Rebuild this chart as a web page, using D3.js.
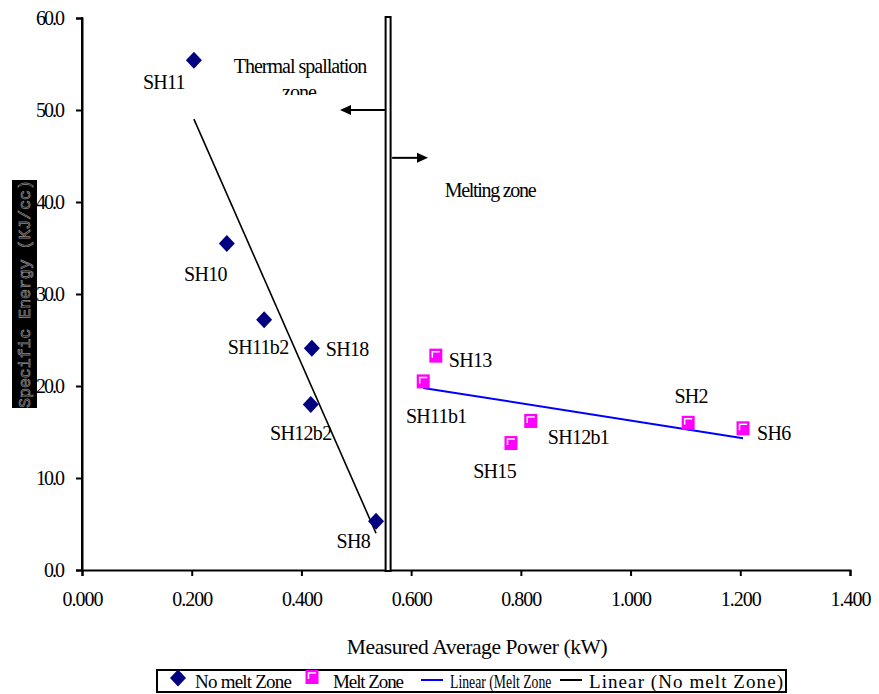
<!DOCTYPE html>
<html>
<head>
<meta charset="utf-8">
<script src="https://cdn.jsdelivr.net/npm/d3@7"></script>
<style>
  html, body { margin: 0; padding: 0; background: #fff; }
  svg { display: block; }
  text { font-family: "Liberation Serif", "Times New Roman", serif; fill: #000; }
</style>
</head>
<body>
<svg id="chart" width="879" height="694"></svg>
<script>
// ---------- data ----------
const noMeltNames = ["SH11", "SH10", "SH11b2", "SH18", "SH12b2", "SH8"];
const noMeltPower = [0.204, 0.264, 0.332, 0.419, 0.417, 0.536];
const noMeltEnergy = [55.4, 35.5, 27.2, 24.1, 18.0, 5.3];

const meltNames = ["SH11b1", "SH13", "SH12b1", "SH15", "SH2", "SH6"];
const meltPower = [0.622, 0.645, 0.818, 0.782, 1.105, 1.205];
const meltEnergy = [20.5, 23.3, 16.2, 13.8, 16.0, 15.4];

const xTicks = [0, 0.2, 0.4, 0.6, 0.8, 1.0, 1.2, 1.4];
const yTicks = [0, 10, 20, 30, 40, 50, 60];

const boundaryPower = 0.558;       // vertical zone divider
const leftArrowEnergy = 50;        // "Thermal spallation zone" arrow
const rightArrowEnergy = 44.8;     // "Melting zone" arrow

const legendLabels = ["No melt Zone", "Melt Zone", "Linear (Melt Zone)", "Linear (No melt Zone)"];

// label placement (pixel offsets from the point; layout only)
const noMeltLabelPos = [
  {dx: -9, dy: 29, a: "end"}, {dx: 0, dy: 38, a: "end"}, {dx: -6, dy: 34, a: "middle"},
  {dx: 14, dy: 8, a: "start"}, {dx: -10, dy: 36, a: "middle"}, {dx: -6, dy: 27, a: "end"}
];
const meltLabelPos = [
  {dx: 13, dy: 42, a: "middle"}, {dx: 13, dy: 11, a: "start"}, {dx: 17, dy: 23, a: "start"},
  {dx: 5, dy: 35, a: "end"}, {dx: 3, dy: -20, a: "middle"}, {dx: 14, dy: 12, a: "start"}
];

// ---------- build ----------
const svg = d3.select("#chart");
const x = d3.scaleLinear().domain([0, 1.4]).range([82, 850]);
const y = d3.scaleLinear().domain([0, 60]).range([570, 18]);

const noMelt = noMeltNames.map((n, i) => ({name: n, x: noMeltPower[i], y: noMeltEnergy[i], pos: noMeltLabelPos[i]}));
const melt = meltNames.map((n, i) => ({name: n, x: meltPower[i], y: meltEnergy[i], pos: meltLabelPos[i]}));

function linReg(xs, ys) {
  const n = xs.length, mx = d3.mean(xs), my = d3.mean(ys);
  let sxy = 0, sxx = 0;
  for (let i = 0; i < n; i++) { sxy += (xs[i]-mx)*(ys[i]-my); sxx += (xs[i]-mx)**2; }
  const b = sxy / sxx, a = my - b * mx;
  const x0 = d3.min(xs), x1 = d3.max(xs);
  return [[x0, a + b*x0], [x1, a + b*x1]];
}

// y axis title (boxed)
svg.append("rect").attr("x", 12).attr("y", 180).attr("width", 25).attr("height", 228).attr("fill", "#000");
svg.append("text")
  .attr("transform", "translate(30,294) rotate(-90)")
  .attr("text-anchor", "middle")
  .style("font-family", "'Liberation Mono', 'DejaVu Sans Mono', monospace")
  .style("font-size", "16.5px")
  .style("fill", "#111").style("stroke", "#8a8a8a").style("stroke-width", "0.7px")
  .text("Specific Energy (KJ/cc)");

// axes
const yAxis = svg.append("g").attr("transform", "translate(82,0)")
  .call(d3.axisLeft(y).tickValues(yTicks).tickFormat(d3.format(".1f")).tickSizeOuter(0).tickSize(6).tickPadding(13));
const xAxis = svg.append("g").attr("transform", "translate(0,570)")
  .call(d3.axisBottom(x).tickValues(xTicks).tickFormat(d3.format(".3f")).tickSizeOuter(0).tickSize(6).tickPadding(16));
[yAxis, xAxis].forEach(g => {
  g.select(".domain").attr("stroke", "#000").attr("stroke-width", 2);
  g.selectAll(".tick line").attr("stroke", "#000").attr("stroke-width", 2);
  g.selectAll(".tick text").style("font-family", "'Liberation Serif', serif").style("font-size", "20px")
    .style("letter-spacing", "-1px").attr("fill", "#000");
});
yAxis.selectAll(".tick text").style("letter-spacing", "-2px");
svg.append("line").attr("x1", 82).attr("x2", 82).attr("y1", 17).attr("y2", 571).attr("stroke", "#000").attr("stroke-width", 2);

// x axis title
svg.append("text").attr("x", 477).attr("y", 654).attr("text-anchor", "middle")
  .style("font-size", "21.5px").style("letter-spacing", "-0.4px").text("Measured Average Power (kW)");

// vertical zone divider
svg.append("rect").attr("x", x(boundaryPower) - 2.5).attr("y", y(60) - 1)
  .attr("width", 5).attr("height", y(0) - y(60) + 2)
  .attr("fill", "#fff").attr("stroke", "#000").attr("stroke-width", 2);

// arrows
function arrow(x1, x2, yy) {
  const dir = Math.sign(x2 - x1);
  svg.append("line").attr("x1", x1).attr("x2", x2 - dir * 9).attr("y1", yy).attr("y2", yy)
    .attr("stroke", "#000").attr("stroke-width", 2);
  svg.append("path").attr("d", `M${x2},${yy} L${x2 - dir*11},${yy-5} L${x2 - dir*11},${yy+5} Z`).attr("fill", "#000");
}
arrow(x(boundaryPower) - 3, 340, y(leftArrowEnergy));
arrow(x(boundaryPower) + 4, 428, y(rightArrowEnergy));

// zone texts
svg.append("defs").append("clipPath").attr("id", "zoneclip")
  .append("rect").attr("x", 200).attr("y", 40).attr("width", 200).attr("height", 55);
const zt = svg.append("g").attr("clip-path", "url(#zoneclip)");
zt.append("text").attr("x", 300).attr("y", 73).attr("text-anchor", "middle")
  .style("font-size", "20px").style("letter-spacing", "-1px").text("Thermal spallation");
zt.append("text").attr("x", 299).attr("y", 99).attr("text-anchor", "middle")
  .style("font-size", "20px").style("letter-spacing", "-1px").text("zone");
svg.append("text").attr("x", 490).attr("y", 197).attr("text-anchor", "middle")
  .style("font-size", "20px").style("letter-spacing", "-1.3px").text("Melting zone");

// trendlines
const line = d3.line().x(d => x(d[0])).y(d => y(d[1]));
svg.append("path").attr("d", line(linReg(noMeltPower, noMeltEnergy)))
  .attr("stroke", "#000").attr("stroke-width", 1.6).attr("fill", "none");
svg.append("path").attr("d", line(linReg(meltPower, meltEnergy)))
  .attr("stroke", "#0000ff").attr("stroke-width", 2).attr("fill", "none");

// markers
function diamond(g, cx, cy) {
  g.append("path").attr("d", `M${cx},${cy-8.5} L${cx+8},${cy} L${cx},${cy+8.5} L${cx-8},${cy} Z`).attr("fill", "#000080");
}
function square(g, cx, cy) {
  g.append("rect").attr("x", cx - 6.5).attr("y", cy - 7).attr("width", 13).attr("height", 14).attr("fill", "#ff00ff");
  g.append("path").attr("d", `M${cx-3.5},${cy+2} L${cx-3.5},${cy-4} L${cx+4},${cy-4}`)
    .attr("stroke", "#fff").attr("stroke-width", 1.5).attr("fill", "none");
}
const pts = svg.append("g");
noMelt.forEach(d => diamond(pts, x(d.x), y(d.y)));
melt.forEach(d => square(pts, x(d.x), y(d.y)));

// point labels
[...noMelt, ...melt].forEach(d => {
  svg.append("text").attr("x", x(d.x) + d.pos.dx).attr("y", y(d.y) + d.pos.dy)
    .attr("text-anchor", d.pos.a).style("font-size", "20px").style("letter-spacing", "-0.7px").text(d.name);
});

// legend
const lg = svg.append("g");
lg.append("rect").attr("x", 157).attr("y", 670).attr("width", 629).attr("height", 22)
  .attr("fill", "#fff").attr("stroke", "#000").attr("stroke-width", 2);
const ly = 688;
const lstyle = (t, w, adj) => t.style("font-size", "19px").attr("textLength", w).attr("lengthAdjust", adj);
diamond(lg, 178, 678);
lstyle(lg.append("text").attr("x", 195).attr("y", ly), 97, "spacing").text(legendLabels[0]);
square(lg, 312, 677);
lstyle(lg.append("text").attr("x", 333).attr("y", ly), 71, "spacing").text(legendLabels[1]);
lg.append("line").attr("x1", 421).attr("x2", 443).attr("y1", 680).attr("y2", 680).attr("stroke", "#0000ff").attr("stroke-width", 2);
svg.append("defs").append("clipPath").attr("id", "lgclip")
  .append("rect").attr("x", 445).attr("y", 665).attr("width", 107).attr("height", 30);
lstyle(lg.append("text").attr("x", 450).attr("y", ly).attr("clip-path", "url(#lgclip)"), 106, "spacingAndGlyphs").text(legendLabels[2]);
lg.append("line").attr("x1", 560).attr("x2", 582).attr("y1", 680).attr("y2", 680).attr("stroke", "#000").attr("stroke-width", 2);
lstyle(lg.append("text").attr("x", 589).attr("y", ly), 194, "spacing").text(legendLabels[3]);
</script>
</body>
</html>
